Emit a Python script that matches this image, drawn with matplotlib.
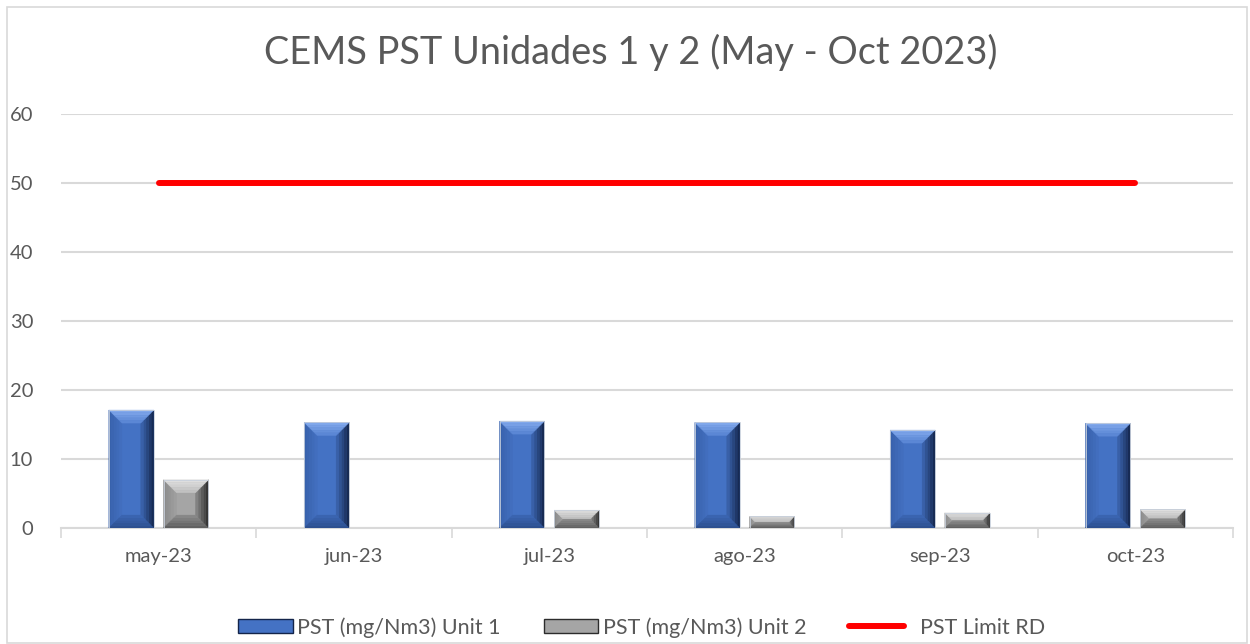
import numpy as np
import matplotlib
matplotlib.use("Agg")
import matplotlib.pyplot as plt
from matplotlib.patches import Polygon, Rectangle, Patch
from matplotlib.lines import Line2D
from matplotlib.colors import to_rgb

# Data
months = ["may-23", "jun-23", "jul-23", "ago-23", "sep-23", "oct-23"]
unit1 = [17.1, 15.3, 15.5, 15.3, 14.2, 15.2]
unit2 = [7.0, 0.0, 2.6, 1.7, 2.2, 2.7]
limit_rd = [50, 50, 50, 50, 50, 50]

plt.rcParams["font.family"] = ["Lato", "DejaVu Sans"]
text_col = "#595959"

fig = plt.figure(figsize=(12.5, 6.44), dpi=100)
ax = fig.add_axes([0.0488, 0.180, 0.9376, 0.643])

x = np.arange(len(months))
w = 0.23
off = 0.14

# bevel colours: face, then (outer, inner) for top, bottom, left, right
blue = {"face": "#4472c4", "top": ("#86acee", "#5683d2"), "bot": ("#2b4d8c", "#3c67b4"),
        "left": ("#3760aa", "#4370c0"), "right": ("#13244a", "#3d67b2")}
gray = {"face": "#a5a5a5", "top": ("#e2e2e2", "#bdbdbd"), "bot": ("#5c5c5c", "#8c8c8c"),
        "left": ("#8a8a8a", "#a0a0a0"), "right": ("#2c2c2c", "#8c8c8c")}

bars1 = ax.bar(x - off, unit1, w, color=blue["face"], linewidth=0, zorder=3)
bars2 = ax.bar(x + off, unit2, w, color=gray["face"], linewidth=0, zorder=3)
ax.plot(x, limit_rd, color="#ff0000", lw=4.3, solid_capstyle="round", zorder=4)

ax.set_xlim(-0.5, len(months) - 0.5)
ax.set_ylim(0, 60)
ax.set_yticks(range(0, 61, 10))
ax.set_xticks(x)
ax.set_xticklabels(months)
ax.set_xticks(np.arange(-0.5, len(months)), minor=True)
ax.tick_params(axis="x", which="major", length=0, pad=14, labelsize=14.5, labelcolor=text_col)
ax.tick_params(axis="x", which="minor", length=7, width=1.2, color="#d9d9d9")
ax.tick_params(axis="y", length=0, pad=20, labelsize=14.5, labelcolor=text_col)
ax.grid(axis="y", color="#d9d9d9", lw=1.5, zorder=0)
for s in ["top", "right", "left"]:
    ax.spines[s].set_visible(False)
ax.spines["bottom"].set_color("#d9d9d9")
ax.spines["bottom"].set_linewidth(1.5)


def mix(c1, c2, t):
    a, b = np.array(to_rgb(c1)), np.array(to_rgb(c2))
    return tuple(a + (b - a) * t)


def bevel(bars, cols, px=13, n=5):
    inv = ax.transData.inverted()
    for b in bars:
        h = b.get_height()
        if h <= 0:
            continue
        (x0, y0), (x1, y1) = ax.transData.transform([(b.get_x(), 0), (b.get_x() + b.get_width(), h)])
        d = min(px, (x1 - x0) / 2, (y1 - y0) / 2)
        for i in range(n):
            a, c = d * i / n, d * (i + 1) / n
            t = (i + 0.5) / n
            pts = {
                "top": [(x0 + a, y1 - a), (x1 - a, y1 - a), (x1 - c, y1 - c), (x0 + c, y1 - c)],
                "bot": [(x0 + a, y0 + a), (x1 - a, y0 + a), (x1 - c, y0 + c), (x0 + c, y0 + c)],
                "left": [(x0 + a, y0 + a), (x0 + a, y1 - a), (x0 + c, y1 - c), (x0 + c, y0 + c)],
                "right": [(x1 - a, y0 + a), (x1 - a, y1 - a), (x1 - c, y1 - c), (x1 - c, y0 + c)],
            }
            for key in ["left", "right", "top", "bot"]:
                col = mix(cols[key][0], cols[key][1], t)
                ax.add_patch(Polygon(inv.transform(pts[key]), closed=True, facecolor=col,
                                     edgecolor=col, lw=0.3, zorder=3.5))
        # thin light outline
        ax.add_patch(Rectangle((b.get_x(), 0), b.get_width(), h, fill=False,
                               edgecolor="#c8d0dc", lw=0.6, zorder=3.6))


bevel(bars1, blue)
bevel(bars2, gray)

fig.text(0.505, 0.918, "CEMS PST Unidades 1 y 2 (May - Oct 2023)", ha="center", va="center",
         fontsize=27.3, color=text_col)

handles = [Patch(facecolor=blue["face"], edgecolor=blue["right"][0], lw=1),
           Patch(facecolor=gray["face"], edgecolor=gray["right"][0], lw=1),
           Line2D([0], [0], color="#ff0000", lw=4.3, solid_capstyle="round")]
labels = ["PST (mg/Nm3) Unit 1", "PST (mg/Nm3) Unit 2", "  PST Limit RD"]
fig.legend(handles, labels, loc="center", bbox_to_anchor=(0.513, 0.026), ncol=3, frameon=False,
           fontsize=15.5, labelcolor=text_col, handlelength=2.55, handleheight=0.6,
           handletextpad=0.2, columnspacing=2.0)

fig.patches.append(Rectangle((0.0056, 0.0015), 0.992, 0.9875, transform=fig.transFigure,
                             fill=False, edgecolor="#d9d9d9", lw=1.2))

fig.savefig("out.png", dpi=100)
